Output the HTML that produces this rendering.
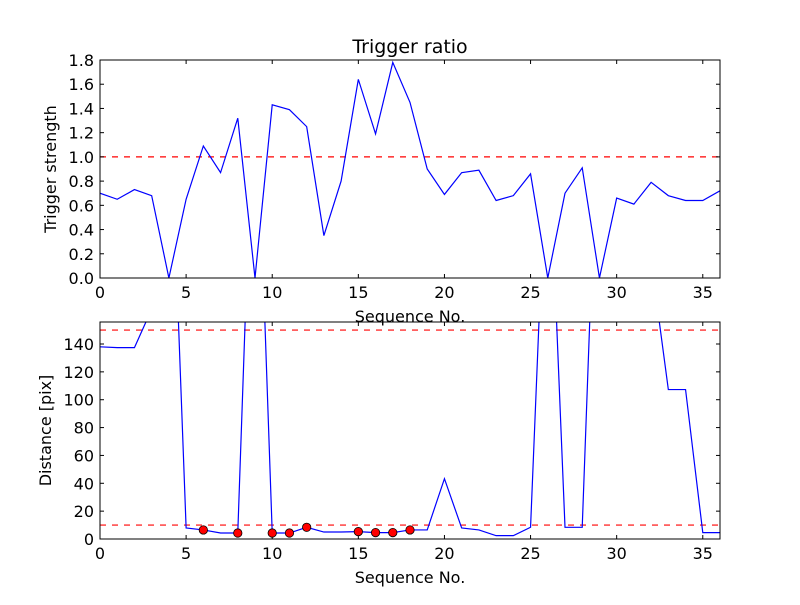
<!DOCTYPE html>
<html><head><meta charset="utf-8"><style>
body{margin:0;background:#fff}
svg text{font-family:"DejaVu Sans","Liberation Sans",sans-serif;fill:#000}
</style></head><body>
<svg id="chart" width="800" height="600" xmlns="http://www.w3.org/2000/svg">
<defs>
<clipPath id="c1"><rect x="100" y="60" width="620" height="218"/></clipPath>
<clipPath id="c2"><rect x="100" y="322" width="620" height="217"/></clipPath>
</defs>
<rect width="800" height="600" fill="#fff"/>
<g id="g"></g>
</svg>
<script>
const seq = [0,1,2,3,4,5,6,7,8,9,10,11,12,13,14,15,16,17,18,19,20,21,22,23,24,25,26,27,28,29,30,31,32,33,34,35,36];
const ratio = [0.70,0.65,0.73,0.68,0,0.65,1.09,0.87,1.32,0,1.43,1.39,1.25,0.35,0.80,1.64,1.19,1.78,1.45,0.90,0.69,0.87,0.89,0.64,0.68,0.86,0,0.70,0.91,0,0.66,0.61,0.79,0.68,0.64,0.64,0.72];
const dist = [138,137.4,137.4,165,340,7.9,6.5,4.3,4.3,360,4.3,4.3,8.4,5,5,5.3,4.6,4.6,6.5,6.5,43.3,7.9,6.5,2.4,2.4,8.4,310,8.4,8.4,347,300,250,200,107.3,107.3,4.6,4.6];
const markIdx = [6,8,10,11,12,15,16,17,18];
const xTicks = [0,5,10,15,20,25,30,35];
const y1Ticks = [0,0.2,0.4,0.6,0.8,1.0,1.2,1.4,1.6,1.8];
const y2Ticks = [0,20,40,60,80,100,120,140];
const thr1 = [1.0];
const thr2 = [10,150];

const NS="http://www.w3.org/2000/svg";
const g=document.getElementById('g');
function mk(t,a,p){const e=document.createElementNS(NS,t);for(const k in a)e.setAttribute(k,a[k]);(p||g).appendChild(e);return e;}
const X=v=>100+v*(620/36);

function axes(top,bot,ymax,yT,fmt,vals,thr,clip,name,ylabel,title){
  const Y=v=>bot-v*(bot-top)/ymax;
  const grp=mk('g',{});
  
  
  const cg=mk('g',{'clip-path':'url(#'+clip+')'},grp);
  thr.forEach(t=>{const l=mk('line',{x1:100,x2:720,y1:Y(t),y2:Y(t),stroke:'#ff0000','stroke-width':1.2,'stroke-dasharray':'6,6'},cg);
    
    });
  const p=mk('polyline',{points:vals.map((v,i)=>X(seq[i])+','+Y(v)).join(' '),fill:'none',stroke:'#0000ff','stroke-width':1.2},cg);
  
  
  const r=mk('rect',{x:100,y:top,width:620,height:bot-top,fill:'none',stroke:'#000','stroke-width':1},grp);
  
  
  xTicks.forEach(t=>{const x=X(t);
    mk('line',{x1:x,x2:x,y1:bot,y2:bot-4,stroke:'#000'},grp);
    mk('line',{x1:x,x2:x,y1:top,y2:top+4,stroke:'#000'},grp);
    const tx=mk('text',{x:x,y:bot+20,'text-anchor':'middle','font-size':16},grp);tx.textContent=t;
    
    });
  yT.forEach(t=>{const y=Y(t);
    mk('line',{x1:100,x2:104,y1:y,y2:y,stroke:'#000'},grp);
    mk('line',{x1:716,x2:720,y1:y,y2:y,stroke:'#000'},grp);
    const tx=mk('text',{x:94,y:y+6,'text-anchor':'end','font-size':16},grp);tx.textContent=fmt(t);
    
    });
  const xl=mk('text',{x:410,y:bot+44,'text-anchor':'middle','font-size':16},grp);xl.textContent='Sequence No.';
  
  
  const cy=(top+bot)/2;
  const yl=mk('text',{x:0,y:0,'text-anchor':'middle','font-size':16,transform:'translate('+(ylabel[1])+','+cy+') rotate(-90)'},grp);yl.textContent=ylabel[0];
  
  
  if(title){const tt=mk('text',{x:410,y:top-7,'text-anchor':'middle','font-size':19},grp);tt.textContent=title;
    
    }
  return Y;
}
axes(60,278,1.8,y1Ticks,t=>t.toFixed(1),ratio,thr1,'c1','top-axes',['Trigger strength',56],'Trigger ratio');
const Y2=axes(322,539,155.8,y2Ticks,t=>String(t),dist,thr2,'c2','bottom-axes',['Distance [pix]',51],null);
markIdx.forEach(i=>{const c=mk('circle',{cx:X(seq[i]),cy:Y2(dist[i]),r:4.2,fill:'#ff0000',stroke:'#000','stroke-width':0.8});
  
  });
</script>
</body></html>
